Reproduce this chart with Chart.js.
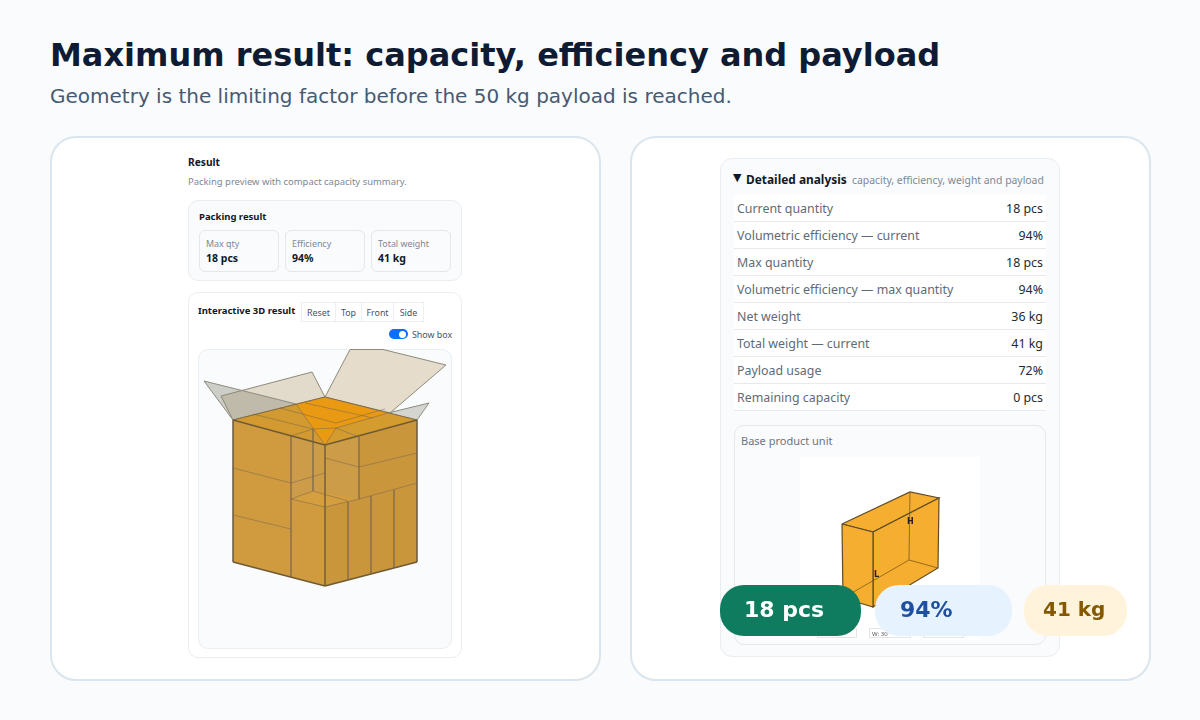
<!DOCTYPE html>
<html lang="en">
<head>
<meta charset="UTF-8">
<title>Maximum result</title>
<script src="https://cdn.jsdelivr.net/npm/chart.js"></script>
<style>
    html, body { margin: 0; padding: 0; }
    body { width: 1200px; height: 720px; position: relative; overflow: hidden; background: #f9fbfd; font-family: "Noto Sans", sans-serif; }
    .abs { position: absolute; white-space: nowrap; }
    h1 { position: absolute; left: 50px; top: 36px; margin: 0; font: bold 32px/38px "DejaVu Sans", sans-serif; color: #0f1b33; white-space: nowrap; }
    .sub { position: absolute; left: 50px; top: 84px; font: 20px/24px "DejaVu Sans", sans-serif; color: #475a72; white-space: nowrap; }
    .card { position: absolute; top: 136px; height: 541px; background: #fff; border: 2px solid #dbe5ee; border-radius: 26px; box-sizing: content-box; }
    .box { position: absolute; background: #f9fbfc; border: 1px solid #e9eef2; border-radius: 10px; box-sizing: border-box; }
    .cell { position: absolute; top: 230px; width: 80px; height: 42px; background: #f9fbfc; border: 1px solid #e3e8ed; border-radius: 6px; box-sizing: border-box; }
    .cell span { position: absolute; left: 6px; white-space: nowrap; }
    .cell .k { top: 6px; font-size: 8.9px; color: #7d8896; }
    .cell .v { top: 20px; font-size: 10.5px; font-weight: bold; color: #111827; }
    .btn { position: absolute; top: 302px; height: 20px; line-height: 20px; text-align: center; font-size: 8.9px; color: #4b5563; background: #fff; border: 1px solid #eceff3; box-sizing: border-box; }
    .row { position: absolute; left: 734px; width: 312px; height: 27px; background: #fff; border-bottom: 1px solid #e6eaee; box-sizing: border-box; font-size: 12.4px; line-height: 28px; }
    .row .k { position: absolute; left: 3px; color: #5f6b76; white-space: nowrap; }
    .row .v { position: absolute; right: 3px; color: #24292f; white-space: nowrap; }
    .pill { position: absolute; top: 585px; height: 51px; border-radius: 24px; font-family: "DejaVu Sans", sans-serif; font-weight: bold; line-height: 49px; white-space: nowrap; }
    canvas { position: absolute; display: block; }
    .dim { position: absolute; top: 628px; height: 10px; background: #fff; border: 1px solid #e2e6ea; font-size: 6px; line-height: 10px; color: #555; box-sizing: border-box; padding-left: 2px; }
</style>
</head>
<body>
<h1>Maximum result: capacity, efficiency and payload</h1>
<div class="sub">Geometry is the limiting factor before the 50 kg payload is reached.</div>

<div class="card" style="left:50px;width:547px"></div>
<div class="card" style="left:630px;width:517px"></div>

<!-- left screenshot -->
<div class="abs" style="left:188px;top:155px;font-size:10.2px;font-weight:bold;color:#111827">Result</div>
<div class="abs" style="left:188px;top:175px;font-size:9.45px;color:#7d8896">Packing preview with compact capacity summary.</div>
<div class="box" style="left:188px;top:200px;width:274px;height:81px"></div>
<div class="abs" style="left:199px;top:210px;font-size:9.5px;font-weight:bold;color:#111827">Packing result</div>
<div id="summary"></div>
<div class="box" style="left:188px;top:292px;width:274px;height:366px;background:#fff"></div>
<div class="abs" style="left:198px;top:304px;font-size:9.5px;font-weight:bold;color:#111827">Interactive 3D result</div>
<div id="buttons"></div>
<div class="abs" style="left:389px;top:329px;width:19px;height:10px;border-radius:5px;background:#0d6efd"></div>
<div class="abs" style="left:399px;top:330.5px;width:7px;height:7px;border-radius:50%;background:#fff"></div>
<div class="abs" style="left:412px;top:328px;font-size:8.9px;color:#4b5563">Show box</div>
<div class="box" style="left:198px;top:349px;width:254px;height:300px"></div>
<canvas id="packedBox" style="left:199px;top:349px"></canvas>

<!-- right screenshot -->
<div class="box" style="left:720px;top:158px;width:340px;height:499px;border-radius:12px"></div>
<div class="abs" style="left:733px;top:171px;font:11px 'DejaVu Sans',sans-serif;color:#111827">▼</div>
<div class="abs" style="left:746px;top:171px;font-size:11.9px;font-weight:bold;color:#111827">Detailed analysis</div>
<div class="abs" style="left:852px;top:173px;font-size:10.4px;color:#7d8896">capacity, efficiency, weight and payload</div>
<div id="rows"></div>
<div class="box" style="left:734px;top:425px;width:312px;height:220px;border-color:#e3e8ed"></div>
<div class="abs" style="left:741px;top:433px;font-size:11px;color:#6b7580">Base product unit</div>
<div class="abs" style="left:800px;top:457px;width:180px;height:183px;background:#fff"></div>
<canvas id="unitBox" style="left:800px;top:457px"></canvas>
<div class="abs" style="left:907px;top:517px;font:bold 8px 'DejaVu Sans',sans-serif;color:#222">H</div>
<div class="abs" style="left:874px;top:570px;font:bold 8px 'DejaVu Sans',sans-serif;color:#222">L</div>
<div class="dim" style="left:817px;width:40px"></div>
<div class="dim" style="left:869px;width:42px">W: 30</div>
<div class="dim" style="left:923px;width:41px"></div>

<div class="pill" style="left:720px;width:141px;background:#0f7b5f;color:#fff;font-size:22px;text-indent:24px">18 pcs</div>
<div class="pill" style="left:875px;width:137px;background:#e6f2fe;color:#1e4fa0;font-size:22px;text-indent:25px">94%</div>
<div class="pill" style="left:1024px;width:103px;background:#fff3dc;color:#855800;font-size:20px;text-indent:19px">41 kg</div>

<script>
    // Text values
    const summaryLabels = ['Max qty', 'Efficiency', 'Total weight'];
    const summaryValues = ['18 pcs', '94%', '41 kg'];
    const viewButtons = ['Reset', 'Top', 'Front', 'Side'];
    const rowLabels = ['Current quantity', 'Volumetric efficiency — current', 'Max quantity', 'Volumetric efficiency — max quantity', 'Net weight', 'Total weight — current', 'Payload usage', 'Remaining capacity'];
    const rowValues = ['18 pcs', '94%', '18 pcs', '94%', '36 kg', '41 kg', '72%', '0 pcs'];

    // Packed box outlines as [x, y]
    const flapBackRight = [[325, 397], [350, 349.5], [383, 349.5], [446, 365], [390, 413]];
    const flapBackLeft = [[221, 396], [312, 372], [325, 397], [233, 420]];
    const topFace = [[233, 420], [325, 397], [417, 420], [325, 445]];
    const flapFrontLeft = [[204, 381], [296, 404], [325, 445], [233, 420]];
    const flapFrontRight = [[429, 403], [417, 420], [388, 413]];
    const topLeftShade = [[233, 420], [296, 404], [325, 445]];
    const topRightShade = [[336, 428], [388, 413], [417, 420], [325, 445]];
    const leftFace = [[233, 420], [325, 445], [325, 586], [233, 562]];
    const rightFace = [[325, 445], [417, 420], [417, 562], [325, 586]];
    const notchBack = [[291, 436], [325, 445], [359, 437], [359, 499], [325, 507], [291, 499]];
    const notchFloor = [[291, 499], [313, 491], [359, 499], [325, 507]];
    const packedLines = [
        [[233, 468], [291, 483]], [[233, 515], [291, 529]], [[291, 436], [291, 577]],
        [[291, 499], [325, 507]], [[325, 507], [359, 499]], [[359, 437], [359, 499]],
        [[325, 458], [359, 467]], [[359, 467], [417, 453]], [[359, 499], [417, 483]],
        [[348, 502], [348, 579]], [[371, 496], [371, 573]], [[394, 490], [394, 567]],
        [[313, 429], [313, 491]], [[291, 483], [325, 473]], [[291, 499], [313, 491]],
        [[313, 491], [348, 501]], [[291, 436], [313, 429]], [[359, 437], [336, 428]],
        [[253, 414], [313, 429]], [[280, 408], [336, 423]], [[305, 403], [373, 418]],
        [[336, 428], [388, 413]], [[336, 428], [325, 445]], [[296, 404], [325, 445]],
        [[313, 429], [336, 428]], [[336, 423], [385, 409]]
    ];
    const packedEdges = [
        [[233, 420], [325, 445]], [[325, 445], [417, 420]], [[325, 445], [325, 586]],
        [[233, 562], [325, 586]], [[325, 586], [417, 562]]
    ];
    const packedSides = [[[233, 420], [233, 562]], [[417, 420], [417, 562]], [[233, 420], [325, 397]], [[325, 397], [417, 420]]];

    // Single product unit outlines
    const unitLeftFace = [[842, 524], [873, 532], [873, 607], [843, 598]];
    const unitRightFace = [[873, 532], [939, 498], [938, 568], [873, 607]];
    const unitTopFace = [[842, 524], [910, 492], [939, 498], [873, 532]];
    const unitHidden = [[[910, 492], [909, 560]], [[909, 560], [843, 598]], [[909, 560], [938, 568]]];

    document.getElementById('summary').innerHTML = summaryLabels.map((label, i) =>
        `<div class="cell" style="left:${199 + i * 86}px"><span class="k">${label}</span><span class="v">${summaryValues[i]}</span></div>`).join('');

    const buttonEdges = [301, 335, 361, 393, 423];
    document.getElementById('buttons').innerHTML = viewButtons.map((label, i) =>
        `<div class="btn" style="left:${buttonEdges[i]}px;width:${buttonEdges[i + 1] - buttonEdges[i] + 1}px">${label}</div>`).join('');

    document.getElementById('rows').innerHTML = rowLabels.map((label, i) =>
        `<div class="row" style="top:${195 + i * 27}px"><span class="k">${label}</span><span class="v">${rowValues[i]}</span></div>`).join('');

    function toPoints(list) {
        return list.map(p => ({ x: p[0], y: p[1] }));
    }

    // closed polygon, painted through the line element's shape fill
    function shape(points, color, stroke, width) {
        return {
            data: toPoints(points.concat([points[0]])),
            showLine: true, fill: 'shape', backgroundColor: color,
            borderColor: stroke || 'rgba(0,0,0,0)', borderWidth: width === undefined ? 1 : width,
            pointRadius: 0, tension: 0
        };
    }

    function segment(points, color, width) {
        return {
            data: toPoints(points), showLine: true, fill: false,
            borderColor: color, borderWidth: width, pointRadius: 0, tension: 0
        };
    }

    function drawBox(id, left, top, width, height, layers) {
        const canvas = document.getElementById(id);
        canvas.width = width;
        canvas.height = height;
        // Chart.js paints the first dataset last, so order keeps the layers as listed
        layers.forEach((layer, i) => { layer.order = layers.length - i; });
        return new Chart(canvas, {
            type: 'scatter',
            data: { datasets: layers },
            options: {
                responsive: false, animation: false, devicePixelRatio: 1,
                layout: { padding: 0 },
                plugins: { legend: { display: false }, tooltip: { enabled: false } },
                scales: {
                    x: { type: 'linear', display: false, min: left, max: left + width },
                    y: { type: 'linear', display: false, reverse: true, min: top, max: top + height }
                }
            }
        });
    }

    const flapLine = '#8d8a7c';
    drawBox('packedBox', 199, 349, 252, 299, [
        shape(flapBackRight, '#e5dccb', flapLine),
        shape(flapBackLeft, 'rgba(222,212,194,0.85)', flapLine),
        shape(flapFrontLeft, 'rgba(135,135,115,0.38)', flapLine),
        shape(flapFrontRight, 'rgba(135,135,115,0.32)', flapLine),
        shape(topFace, '#ea9a12'),
        shape(topLeftShade, '#d29a30'),
        shape(topRightShade, '#d49b2e'),
        shape(leftFace, '#d09b3f'),
        shape(rightFace, '#c9963b'),
        shape(notchBack, '#cc9c48'),
        shape(notchFloor, '#d59e3f'),
        ...packedLines.map(p => segment(p, 'rgba(115,100,80,0.5)', 1)),
        ...packedSides.map(p => segment(p, 'rgba(105,90,65,0.75)', 1)),
        ...packedEdges.map(p => segment(p, '#6f5a33', 1.4))
    ]);

    drawBox('unitBox', 800, 457, 180, 183, [
        shape(unitTopFace, '#f5ae30', '#5f4c26', 1.2),
        shape(unitRightFace, '#f5ae30', '#5f4c26', 1.2),
        shape(unitLeftFace, '#f5ae30', '#5f4c26', 1.2),
        ...unitHidden.map(p => segment(p, 'rgba(110,80,20,0.7)', 1))
    ]);
</script>
</body>
</html>
